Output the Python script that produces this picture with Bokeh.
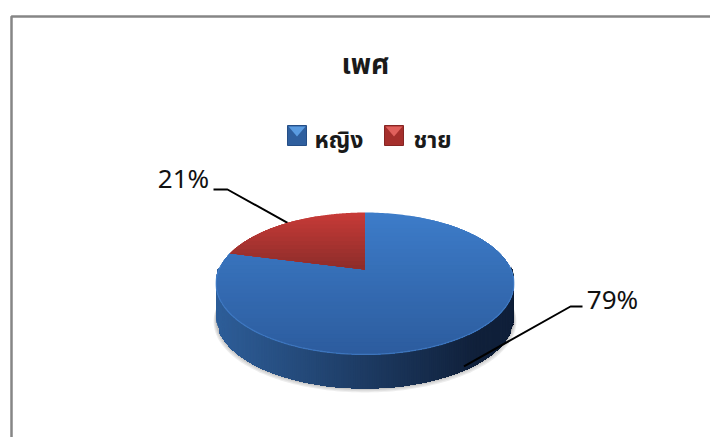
import numpy as np
from bokeh.core.properties import value
from bokeh.embed import file_html
from bokeh.models import Range1d
from bokeh.plotting import figure
from bokeh.resources import INLINE

title = "เพศ"
categories = ["หญิง", "ชาย"]
shares = [79, 21]
labels = ["79%", "21%"]
THAI = "Noto Sans Thai, Noto Sans, Tahoma, sans-serif"
LATIN = "Noto Sans"

CX, CY, A, B, K, DEPTH = 364.5, 269.0, 68.2, 146.0, 0.197, 34.0


def project(frac):
    """Fraction of the circle, clockwise from 12 o'clock, to page pixels."""
    th = 2 * np.pi * np.asarray(frac, float)
    X, Y = np.sin(th), -np.cos(th)
    w = 1 - K * Y
    return CX + B * X / w, CY + A * Y / w


def mix(c1, c2, t):
    c = [round(a + (b - a) * t) for a, b in zip(c1, c2)]
    return "#%02x%02x%02x" % tuple(c)


def clip_band(xs, ys, y0, y1):
    """Clip a polygon to a horizontal band."""
    def clip(pts, inside, cross):
        out = []
        for i in range(len(pts)):
            a, b = pts[i], pts[(i + 1) % len(pts)]
            if inside(a):
                out.append(a)
            if inside(a) != inside(b):
                out.append(cross(a, b))
        return out
    def at(v):
        return lambda a, b: (a[0] + (b[0] - a[0]) * (v - a[1]) / (b[1] - a[1]), v)
    pts = list(zip(xs, ys))
    pts = clip(pts, lambda p: p[1] >= y0, at(y0))
    if pts:
        pts = clip(pts, lambda p: p[1] <= y1, at(y1))
    return [p[0] for p in pts], [p[1] for p in pts]


p = figure(width=710, height=437, output_backend="svg", toolbar_location=None,
           x_range=Range1d(0, 710), y_range=Range1d(437, 0),
           min_border=0, outline_line_color=None, background_fill_color="white")
p.axis.visible = False
p.grid.visible = False

# chart frame
p.line([11, 11, 710], [437, 16, 16], line_color="#868686", line_width=2.5)

ring = np.linspace(0, 1, 361)
rx, ry = project(ring)

# soft shadow under the pie
for g in [5, 3.5, 2, 1]:
    p.patch(CX + (rx - CX) * (1 + g / 300), ry + DEPTH + g * 0.8,
            fill_color="#808080", fill_alpha=0.14, line_color=None)

# side wall, vertical strips drawn left to right with overlap so no seams show
SIDE_L, SIDE_R = (46, 94, 153), (16, 32, 58)
front = np.linspace(0.25, 0.75, 241)
fx, fy = project(front)
order = np.argsort(fx)
fx, fy = fx[order], fy[order]
for i in range(len(fx) - 1):
    t = min(1, (fx[i] - fx[0]) / (fx[-1] - fx[0]) * 1.15)
    c = mix(SIDE_L, SIDE_R, t)
    xs = fx[i:]
    ys = fy[i:]
    p.patch(np.r_[xs, xs[::-1]], np.r_[ys - 4, ys[::-1] + DEPTH], fill_color=c, line_color=None)

# leader line of the front slice lies under the top face, over the side wall
start = 0.0
total = sum(shares)
mids = []
for share in shares:
    mids.append(start + share / total / 2)
    start += share / total
mx, my = project(mids)
p.line([mx[0] - 7, 570, 582], [my[0] + DEPTH - 1, 306, 306], line_color="black", line_width=2)
p.line([mx[1], 227, 213], [my[1], 189, 189], line_color="black", line_width=2)

# top face, horizontal bands for the gradient
STOPS = [((61, 124, 201), (44, 92, 158)), ((200, 58, 55), (140, 44, 42))]
start = 0.0
top_y, bot_y = ry.min(), ry.max()
for share, (c_top, c_bot) in zip(shares, STOPS):
    frac = share / total
    arc = np.linspace(start, start + frac, 240)
    ax, ay = project(arc)
    xs = np.r_[ax, CX]
    ys = np.r_[ay, CY]
    edges = np.linspace(top_y, bot_y, 36)
    for j in range(len(edges) - 1):
        y0, y1 = edges[j], edges[j + 1]
        # each band reaches to the bottom, so later bands paint over earlier seams
        bx, by = clip_band(xs, ys, y0, bot_y + 1)
        if len(bx) > 2:
            t = ((y0 + y1) / 2 - top_y) / (bot_y - top_y)
            if c_top[0] > 100:
                t = min(1, ((y0 + y1) / 2 - top_y) / (CY - top_y))
            p.patch(bx, by, fill_color=mix(c_top, c_bot, t), line_color=None)
    start += frac

# bevel highlight along the front rim
rim = np.linspace(0.24, 0.76, 160)
hx, hy = project(rim)
p.line(hx, hy, line_color="#4a86d0", line_width=1.3, line_alpha=0.6)

# texts
p.text([365], [65], text=[title], text_font=value(THAI), text_font_style="bold",
       text_font_size="28px", text_align="center", text_baseline="middle", text_color="#1a1a1a")
p.text([314, 413], [140, 140], text=categories, text_font=value(THAI), text_font_style="bold",
       text_font_size="23px", text_align="left", text_baseline="middle", text_color="#1a1a1a")
p.text([612, 183], [298, 177], text=labels, text_font=value(LATIN),
       text_font_size="26px", text_align="center", text_baseline="middle", text_color="#111111")

# legend keys: a square with a lighter top wedge
keys = [((287, 306), ("#2f5f9e", "#5a9be0", "#254e86")),
        ((384, 403), ("#a52f2c", "#e0605c", "#862523"))]
for (x0, x1), (base, light, dark) in keys:
    y0, y1 = 125, 145
    p.patch([x0, x1, x1, x0], [y0, y0, y1, y1], fill_color=base, line_color=dark, line_width=1)
    xc, yc = (x0 + x1) / 2, (y0 + y1) / 2 + 1
    p.patch([x0 + 1, x1 - 1, xc], [y0 + 1, y0 + 1, yc], fill_color=light, line_color=None)

open("out.html", "w").write(file_html(p, INLINE))
